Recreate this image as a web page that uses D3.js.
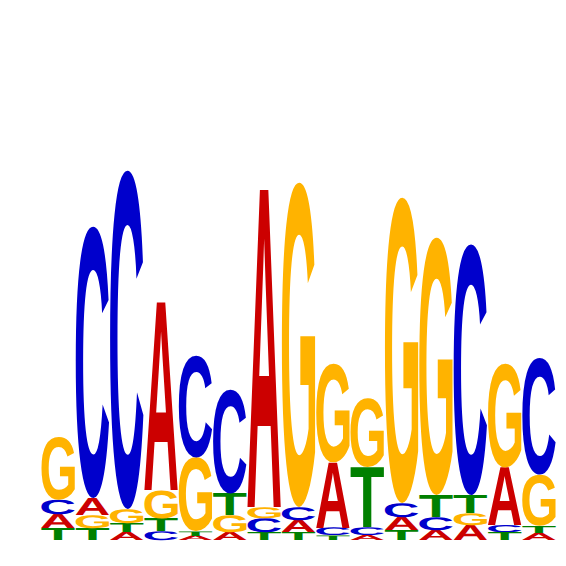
<!DOCTYPE html>
<html>
<head>
<meta charset="utf-8">
<script src="https://cdn.jsdelivr.net/npm/d3@7"></script>
<style>
  html, body { margin: 0; padding: 0; background: #fff; }
  svg { display: block; }
</style>
</head>
<body>
<svg id="logo" width="566" height="566"></svg>
<script>
// ---- data (heights in bits) ----
const positions = [1,2,3,4,5,6,7,8,9,10,11,12,13,14,15];
const letters = ["A","C","G","T"];
const heightA = [0.056,0.068,0.032,0.752,0.018,0.032,1.272,0.048,0.262,0.020,0.052,0.040,0.060,0.232,0.028];
const heightC = [0.058,1.088,1.356,0.036,0.408,0.416,0.056,0.052,0.032,0.032,0.056,0.052,1.004,0.028,0.468];
const heightG = [0.252,0.052,0.056,0.112,0.296,0.068,0.044,1.300,0.396,0.276,1.224,1.032,0.048,0.416,0.204];
const heightT = [0.048,0.048,0.036,0.052,0.018,0.088,0.032,0.032,0.018,0.240,0.040,0.088,0.072,0.032,0.028];
// stacking order, bottom to top, per position
const stackOrder = ["TACG","TGAC","ATGC","CTGA","ATGC","AGTC","TCGA","TACG","TCAG","ACTG","TACG","ACTG","AGTC","TCAG","ATGC"];
const letterColors = ["#CC0000","#0000CC","#FFB300","#008000"];

// ---- layout ----
const svg = d3.select("#logo");
const x = d3.scaleBand().domain(positions).range([41, 556]).paddingInner(0.03).paddingOuter(0.01);
const y = d3.scaleLinear().domain([0, 2]).range([540, 40]);
const color = d3.scaleOrdinal().domain(letters).range(letterColors);

const heights = { A: heightA, C: heightC, G: heightG, T: heightT };

// measure exact ink bounds of glyphs by rasterising them
const FS = 100;
const FONT = '"Liberation Sans", Arial, Helvetica, sans-serif';
const R = 4; // raster scale
const cv = document.createElement("canvas");
cv.width = 800; cv.height = 800;
const ctx = cv.getContext("2d", { willReadFrequently: true });
const metrics = {};
letters.forEach(L => {
  ctx.clearRect(0, 0, cv.width, cv.height);
  ctx.font = `bold ${FS * R}px ${FONT}`;
  ctx.textBaseline = "alphabetic";
  ctx.fillStyle = "#000";
  const ox = 100, oy = 600;
  ctx.fillText(L, ox, oy);
  const data = ctx.getImageData(0, 0, cv.width, cv.height).data;
  let minX = Infinity, maxX = -Infinity, minY = Infinity, maxY = -Infinity;
  for (let yy = 0; yy < cv.height; yy++) {
    for (let xx = 0; xx < cv.width; xx++) {
      if (data[(yy * cv.width + xx) * 4 + 3] > 20) {
        if (xx < minX) minX = xx;
        if (xx > maxX) maxX = xx;
        if (yy < minY) minY = yy;
        if (yy > maxY) maxY = yy;
      }
    }
  }
  metrics[L] = {
    left: (ox - minX) / R,
    right: (maxX + 1 - ox) / R,
    asc: (oy - minY) / R,
    desc: (maxY + 1 - oy) / R
  };
});

const glyphs = [];
positions.forEach((p, i) => {
  let cum = 0;
  stackOrder[i].split("").forEach(L => {
    const v = heights[L][i];
    glyphs.push({ pos: p, letter: L, y0: cum, y1: cum + v });
    cum += v;
  });
});

svg.append("g")
  .selectAll("text")
  .data(glyphs)
  .join("text")
  .attr("x", 0)
  .attr("y", 0)
  .style("font-family", FONT)
  .style("font-weight", "bold")
  .style("font-size", FS + "px")
  .attr("text-rendering", "geometricPrecision")
  .attr("fill", d => color(d.letter))
  .attr("transform", d => {
    const m = metrics[d.letter];
    const x0 = x(d.pos), w = x.bandwidth();
    const yTop = y(d.y1), h = y(d.y0) - y(d.y1);
    const sx = w / (m.left + m.right);
    const sy = h / (m.asc + m.desc);
    return `translate(${x0 + m.left * sx},${yTop + m.asc * sy}) scale(${sx},${sy})`;
  })
  .text(d => d.letter);
</script>
</body>
</html>
